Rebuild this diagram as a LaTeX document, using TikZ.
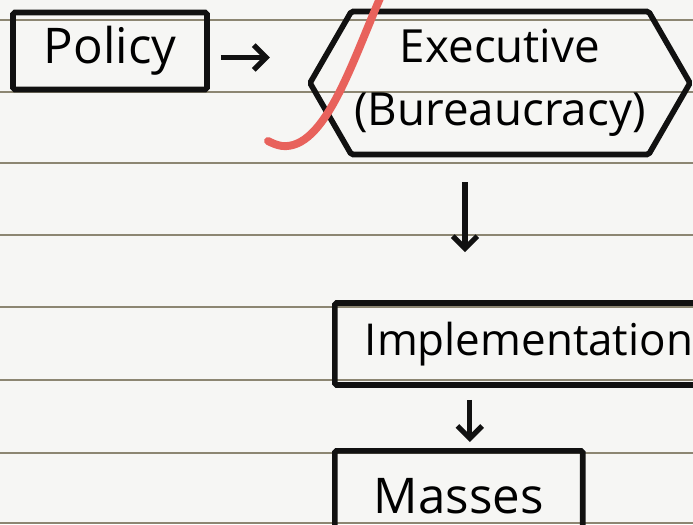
\documentclass[tikz,border=0pt]{standalone}
\usepackage{fontspec}
\setmainfont{Open Sans}
\usetikzlibrary{arrows.meta,shapes.symbols}

\definecolor{pen}{HTML}{111111}
\definecolor{ruleline}{HTML}{8C8672}
\definecolor{redink}{HTML}{E8625C}
\definecolor{paper}{HTML}{F6F6F4}

\tikzset{
  box/.style={draw=pen, line width=3.2pt, rounded corners=1pt, font=\fontsize{28}{38}\selectfont},
  arr/.style={draw=pen, line width=3pt, -{Straight Barb[length=7pt,width=14pt,line width=3pt]}},
}

\begin{document}
\begin{tikzpicture}[x=0.02cm, y=-0.02cm]
\fill[paper] (0,0) rectangle (693,524);
\useasboundingbox (0,0) rectangle (693,524);
\clip (0,0) rectangle (693,524);
% ruled lines of the page
\foreach \y in {20,92,163,235,307,380,453,523}
  \draw[ruleline, line width=1.4pt] (0,\y) -- (693,\y);

\node[box, minimum width=3.88cm, minimum height=1.54cm] (policy) at (110,51) {Policy};
\node[box, signal, signal to=west and east, signal pointer angle=120, inner xsep=0pt,
      font=\fontsize{26}{36}\selectfont,
      minimum width=7.6cm, minimum height=2.86cm, align=center] (exec) at (500,83) {Executive\\(Bureaucracy)};
\node[box, anchor=west, minimum height=1.64cm, text width=6.5cm, align=left,
      inner xsep=0.6cm, font=\fontsize{25}{34}\selectfont] (impl) at (332,344) {Implementation};
\node[box, anchor=north west, minimum width=4.96cm, minimum height=1.8cm] (masses) at (332,448) {Masses};

\draw[arr, shorten <=0.22cm, shorten >=0.74cm] ([yshift=-0.13cm]policy.east) -- ([yshift=-0.13cm]policy.east -| exec.west);
\draw[arr, shorten <=0.5cm, shorten >=0.96cm] ([xshift=-0.7cm]exec.south) -- ([xshift=-0.7cm]exec.south |- impl.north);
\draw[arr, shorten <=0.24cm, shorten >=0.12cm] ([xshift=0.22cm]masses.north |- impl.south) -- ([xshift=0.22cm]masses.north);

% red pen stroke
\draw[redink, line width=4.5pt, line cap=round] (381,-4) .. controls (352,62) and (325,150) .. (282,146) .. controls (276,145) and (272,143) .. (268,141);
\end{tikzpicture}
\end{document}
